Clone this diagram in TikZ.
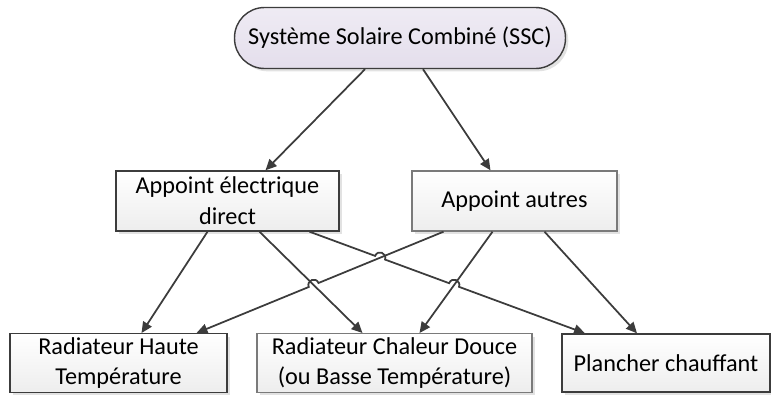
\documentclass[tikz,border=0pt]{standalone}
\usepackage{fontspec}
\setmainfont{Carlito}
\usetikzlibrary{positioning,arrows.meta,shadows,calc,intersections}
\definecolor{sscfill}{HTML}{E4DEEC}
\definecolor{boxline}{HTML}{3C3C3C}
\definecolor{boxlight}{HTML}{7A7A7A}

\begin{document}
\begin{tikzpicture}[x=0.02cm, y=-0.02cm,
	every node/.style={font=\fontsize{13.8}{17.5}\selectfont, align=center, inner sep=2pt},
	choix/.style={rectangle, draw=boxline, line width=0.8pt, top color=white, bottom color=gray!14,
		drop shadow={shadow xshift=1.6pt, shadow yshift=-1.6pt, fill=gray!45}},
	racine/.style={choix, rounded corners=0.6cm, top color=sscfill!60, bottom color=sscfill},
	fleche/.style={draw=boxline, line width=1pt, -{Triangle[length=0.22cm, width=0.2cm]}},
	saut/.style={bend left=90, looseness=1.7}]
	\useasboundingbox (0,0) rectangle (771,396);
	% noeuds
	\node[racine, minimum width=6.62cm, minimum height=1.22cm] (ssc) at (400,38) {Système Solaire Combiné (SSC)};
	\node[choix, minimum width=4.46cm, minimum height=1.2cm] (ae) at (227.5,201) {Appoint électrique\\direct};
	\node[choix, draw=boxlight, minimum width=4.1cm, minimum height=1.2cm] (aa) at (514.5,201) {Appoint autres};
	\node[choix, minimum width=4.34cm, minimum height=1.16cm] (rht) at (118.5,363) {Radiateur Haute\\Température};
	\node[choix, draw=boxlight, minimum width=5.5cm, minimum height=1.16cm] (rcd) at (394.5,363) {Radiateur Chaleur Douce\\(ou Basse Température)};
	\node[choix, minimum width=4.16cm, minimum height=1.16cm] (pc) at (666,363) {Plancher chauffant};
	% points d'attache
	\coordinate (ae1) at ($(ae.south)+(-20,0)$);
	\coordinate (ae2) at ($(ae.south)+(32,0)$);
	\coordinate (ae3) at ($(ae.south)+(82,0)$);
	\coordinate (aa1) at ($(aa.south)+(-71,0)$);
	\coordinate (aa2) at ($(aa.south)+(-22,0)$);
	\coordinate (aa3) at ($(aa.south)+(30,0)$);
	\coordinate (rht1) at ($(rht.north)+(23,0)$);
	\coordinate (rht2) at ($(rht.north)+(78,0)$);
	\coordinate (rcd1) at ($(rcd.north)+(-32,0)$);
	\coordinate (rcd2) at ($(rcd.north)+(25,0)$);
	\coordinate (pc1) at ($(pc.north)+(-81,0)$);
	\coordinate (pc2) at ($(pc.north)+(-29,0)$);
	% fleches
	\draw[fleche] ($(ssc.south)+(-35,0)$) -- ($(ae.north)+(38,0)$);
	\draw[fleche] ($(ssc.south)+(23,0)$) -- ($(aa.north)+(-24,0)$);
	\draw[fleche] (ae1) -- (rht1);
	\draw[fleche, name path=aercd] (ae2) -- (rcd1);
	\draw[fleche, name path=aarcd] (aa2) -- (rcd2);
	\draw[fleche] (aa3) -- (pc2);
	% fleches avec sauts
	\path[name path=aarht] (aa1) -- (rht2);
	\path[name path=aepc] (ae3) -- (pc1);
	\path[name intersections={of=aarht and aercd, by=h1}];
	\path[name intersections={of=aepc and aarht, by=h2}];
	\path[name intersections={of=aepc and aarcd, by=h3}];
	\draw[fleche] (aa1) -- ($(h1)!3pt!(aa1)$) to[saut, bend right=90] ($(h1)!3pt!(rht2)$) -- (rht2);
	\draw[fleche] (ae3) -- ($(h2)!3pt!(ae3)$) to[saut] ($(h2)!3pt!(pc1)$)
		-- ($(h3)!3pt!(ae3)$) to[saut] ($(h3)!3pt!(pc1)$) -- (pc1);
\end{tikzpicture}
\end{document}
